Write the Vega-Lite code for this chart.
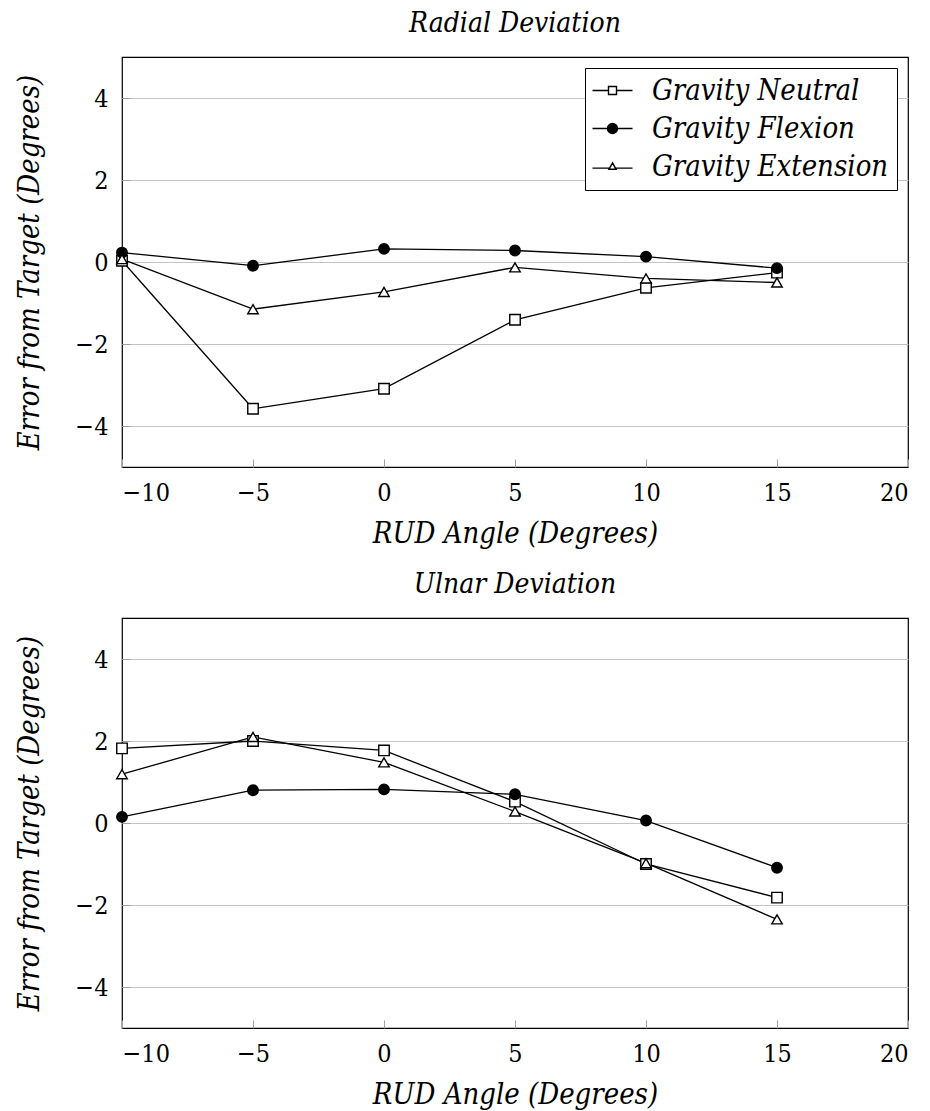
{
  "$schema": "https://vega.github.io/schema/vega-lite/v6.json",
  "padding": {"left": 15, "top": 9, "right": 5, "bottom": 5},
  "background": "white",
  "config": {
    "view": {"stroke": "black", "strokeWidth": 1.2},
    "axis": {
      "labelFont": "DejaVu Serif Condensed",
      "labelFontSize": 25,
      "labelColor": "black",
      "titleFont": "DejaVu Serif Condensed",
      "titleFontSize": 29,
      "titleFontStyle": "italic",
      "titleFontWeight": "normal",
      "titleColor": "black",
      "domain": false,
      "tickColor": "#a0a0a0",
      "tickSize": -8
    },
    "axisX": {"labelPadding": 21},
    "axisY": {"labelPadding": 22},
    "title": {"font": "DejaVu Serif Condensed", "fontSize": 28, "fontStyle": "italic", "fontWeight": "normal", "color": "black"},
    "legend": {
      "labelFont": "DejaVu Serif Condensed",
      "labelFontSize": 29,
      "labelFontStyle": "italic",
      "labelColor": "black",
      "labelLimit": 0
    }
  },
  "datasets": {
    "d": [
      {"panel": "Radial", "series": "Gravity Neutral", "angle": -10, "error": 0.03},
      {"panel": "Radial", "series": "Gravity Neutral", "angle": -5, "error": -3.58},
      {"panel": "Radial", "series": "Gravity Neutral", "angle": 0, "error": -3.09},
      {"panel": "Radial", "series": "Gravity Neutral", "angle": 5, "error": -1.41},
      {"panel": "Radial", "series": "Gravity Neutral", "angle": 10, "error": -0.63},
      {"panel": "Radial", "series": "Gravity Neutral", "angle": 15, "error": -0.26},
      {"panel": "Radial", "series": "Gravity Flexion", "angle": -10, "error": 0.23},
      {"panel": "Radial", "series": "Gravity Flexion", "angle": -5, "error": -0.09},
      {"panel": "Radial", "series": "Gravity Flexion", "angle": 0, "error": 0.32},
      {"panel": "Radial", "series": "Gravity Flexion", "angle": 5, "error": 0.28},
      {"panel": "Radial", "series": "Gravity Flexion", "angle": 10, "error": 0.13},
      {"panel": "Radial", "series": "Gravity Flexion", "angle": 15, "error": -0.15},
      {"panel": "Radial", "series": "Gravity Extension", "angle": -10, "error": 0.07},
      {"panel": "Radial", "series": "Gravity Extension", "angle": -5, "error": -1.15},
      {"panel": "Radial", "series": "Gravity Extension", "angle": 0, "error": -0.73},
      {"panel": "Radial", "series": "Gravity Extension", "angle": 5, "error": -0.13},
      {"panel": "Radial", "series": "Gravity Extension", "angle": 10, "error": -0.4},
      {"panel": "Radial", "series": "Gravity Extension", "angle": 15, "error": -0.5},
      {"panel": "Ulnar", "series": "Gravity Neutral", "angle": -10, "error": 1.82},
      {"panel": "Ulnar", "series": "Gravity Neutral", "angle": -5, "error": 2.0},
      {"panel": "Ulnar", "series": "Gravity Neutral", "angle": 0, "error": 1.77},
      {"panel": "Ulnar", "series": "Gravity Neutral", "angle": 5, "error": 0.52},
      {"panel": "Ulnar", "series": "Gravity Neutral", "angle": 10, "error": -1.0},
      {"panel": "Ulnar", "series": "Gravity Neutral", "angle": 15, "error": -1.82},
      {"panel": "Ulnar", "series": "Gravity Flexion", "angle": -10, "error": 0.15},
      {"panel": "Ulnar", "series": "Gravity Flexion", "angle": -5, "error": 0.8},
      {"panel": "Ulnar", "series": "Gravity Flexion", "angle": 0, "error": 0.82},
      {"panel": "Ulnar", "series": "Gravity Flexion", "angle": 5, "error": 0.7},
      {"panel": "Ulnar", "series": "Gravity Flexion", "angle": 10, "error": 0.06},
      {"panel": "Ulnar", "series": "Gravity Flexion", "angle": 15, "error": -1.09},
      {"panel": "Ulnar", "series": "Gravity Extension", "angle": -10, "error": 1.19},
      {"panel": "Ulnar", "series": "Gravity Extension", "angle": -5, "error": 2.1},
      {"panel": "Ulnar", "series": "Gravity Extension", "angle": 0, "error": 1.48},
      {"panel": "Ulnar", "series": "Gravity Extension", "angle": 5, "error": 0.28},
      {"panel": "Ulnar", "series": "Gravity Extension", "angle": 10, "error": -0.98},
      {"panel": "Ulnar", "series": "Gravity Extension", "angle": 15, "error": -2.35}
    ]
  },
  "spacing": 21,
  "resolve": {"legend": {"shape": "independent", "fill": "independent"}, "scale": {"shape": "independent"}},
  "vconcat": [
    {
      "width": 786,
      "height": 410,
      "title": {"text": "Radial Deviation", "offset": 19},
      "data": {"name": "d"},
      "transform": [{"filter": "datum.panel == 'Radial'"}],
      "encoding": {
        "x": {"field": "angle", "type": "quantitative", "scale": {"domain": [-10, 20], "nice": false}, "axis": {"values": [-10, -5, 0, 5, 10, 15, 20], "grid": false, "title": "RUD Angle (Degrees)", "titlePadding": 14}},
        "y": {"field": "error", "type": "quantitative", "scale": {"domain": [-5, 5], "nice": false}, "axis": {"values": [-4, -2, 0, 2, 4], "grid": true, "gridColor": "#c4c4c4", "title": "Error from Target (Degrees)", "titlePadding": 30}}
      },
      "layer": [
        {"mark": {"type": "line", "color": "black", "strokeWidth": 1.3}, "encoding": {"detail": {"field": "series"}}},
        {
          "mark": {"type": "point", "size": 110, "filled": true, "stroke": "black", "strokeWidth": 1.4, "opacity": 1},
          "encoding": {
            "shape": {"field": "series", "type": "nominal", "scale": {"domain": ["Gravity Neutral", "Gravity Flexion", "Gravity Extension"], "range": ["square", "circle", "triangle-up"]}, "legend": null},
            "fill": {"field": "series", "type": "nominal", "scale": {"domain": ["Gravity Neutral", "Gravity Flexion", "Gravity Extension"], "range": ["white", "black", "white"]}, "legend": null}
          }
        },
        {
          "transform": [{"filter": "datum.angle > 1000"}],
          "mark": {"type": "point", "filled": false, "color": "black", "strokeWidth": 1.4, "opacity": 1},
          "encoding": {
            "shape": {"field": "series", "type": "nominal", "scale": {"domain": ["Gravity Neutral", "Gravity Flexion", "Gravity Extension"], "range": ["M-5,0H-1M1,0H5M-1,-1H1V1H-1Z", "M-5,0H5M1.25,0A1.25,1.25 0 1,1 -1.25,0A1.25,1.25 0 1,1 1.25,0ZM1,0A1,1 0 1,1 -1,0A1,1 0 1,1 1,0ZM0.75,0A0.75,0.75 0 1,1 -0.75,0A0.75,0.75 0 1,1 0.75,0ZM0.5,0A0.5,0.5 0 1,1 -0.5,0A0.5,0.5 0 1,1 0.5,0ZM0.25,0A0.25,0.25 0 1,1 -0.25,0A0.25,0.25 0 1,1 0.25,0Z", "M-5,0.4H-0.7M0.7,0.4H5M0,-0.9L0.9,0.7H-0.9Z"]},
              "legend": {"title": null, "orient": "top-right", "offset": 11, "padding": 8, "strokeColor": "black", "fillColor": "white", "symbolSize": 64, "symbolStrokeColor": "black", "symbolStrokeWidth": 1.4, "symbolOffset": 5, "labelOffset": 25, "rowPadding": 8}}
          }
        }
      ],
      "resolve": {"scale": {"shape": "independent"}, "legend": {"shape": "independent"}}
    },
    {
      "width": 786,
      "height": 410,
      "title": {"text": "Ulnar Deviation", "offset": 19},
      "data": {"name": "d"},
      "transform": [{"filter": "datum.panel == 'Ulnar'"}],
      "encoding": {
        "x": {"field": "angle", "type": "quantitative", "scale": {"domain": [-10, 20], "nice": false}, "axis": {"values": [-10, -5, 0, 5, 10, 15, 20], "grid": false, "title": "RUD Angle (Degrees)", "titlePadding": 14}},
        "y": {"field": "error", "type": "quantitative", "scale": {"domain": [-5, 5], "nice": false}, "axis": {"values": [-4, -2, 0, 2, 4], "grid": true, "gridColor": "#c4c4c4", "title": "Error from Target (Degrees)", "titlePadding": 30}}
      },
      "layer": [
        {"mark": {"type": "line", "color": "black", "strokeWidth": 1.3}, "encoding": {"detail": {"field": "series"}}},
        {
          "mark": {"type": "point", "size": 110, "filled": true, "stroke": "black", "strokeWidth": 1.4, "opacity": 1},
          "encoding": {
            "shape": {"field": "series", "type": "nominal", "scale": {"domain": ["Gravity Neutral", "Gravity Flexion", "Gravity Extension"], "range": ["square", "circle", "triangle-up"]}, "legend": null},
            "fill": {"field": "series", "type": "nominal", "scale": {"domain": ["Gravity Neutral", "Gravity Flexion", "Gravity Extension"], "range": ["white", "black", "white"]}, "legend": null}
          }
        }
      ]
    }
  ]
}
